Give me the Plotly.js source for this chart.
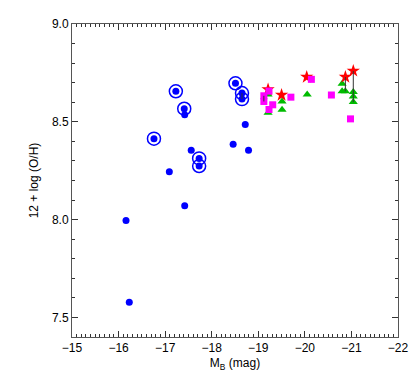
<!DOCTYPE html>
<html>
<head>
<meta charset="utf-8">
<script src="https://cdn.plot.ly/plotly-3.0.1.min.js"></script>
<style>html,body{margin:0;padding:0;background:#fff;}#chart{width:420px;height:382px;}</style>
</head>
<body>
<div id="chart"></div>
<script>
// Blue dots (all)
var blueX = [-17.23, -17.41, -17.42, -16.76, -18.51, -18.65, -18.65, -18.72, -18.46, -18.79, -17.56, -17.73, -17.73, -17.09, -17.42, -16.16, -16.23];
var blueY = [8.656, 8.567, 8.536, 8.414, 8.697, 8.647, 8.616, 8.486, 8.385, 8.354, 8.354, 8.313, 8.274, 8.245, 8.071, 7.996, 7.578];
// Blue dots that are encircled
var ringX = [-17.23, -17.41, -16.76, -18.51, -18.65, -18.65, -17.73, -17.73];
var ringY = [8.656, 8.567, 8.414, 8.697, 8.647, 8.616, 8.313, 8.274];
// Magenta squares
var magX = [-19.23, -19.12, -19.12, -19.31, -19.23, -19.70, -20.14, -20.57, -20.98];
var magY = [8.657, 8.633, 8.604, 8.587, 8.563, 8.626, 8.717, 8.637, 8.515];
// Red stars
var starX = [-19.21, -19.50, -20.04, -20.87, -21.04];
var starY = [8.665, 8.637, 8.729, 8.729, 8.760];
// Green triangles
var triX = [-19.21, -19.21, -19.51, -19.51, -20.05, -20.80, -20.80, -20.87, -21.04, -21.04, -21.04];
var triY = [8.640, 8.546, 8.604, 8.562, 8.640, 8.695, 8.656, 8.656, 8.652, 8.630, 8.601];
// Connecting segments (same object), x and y pairs separated by null
var segX = [-20.87, -20.87, null, -21.04, -21.04, null, -18.65, -18.65, null, -19.12, -19.12];
var segY = [8.729, 8.656, null, 8.760, 8.601, null, 8.647, 8.616, null, 8.633, 8.604];

var traces = [
  {x: blueX, y: blueY, mode: 'markers', type: 'scatter',
   marker: {symbol: 'circle', size: 7, color: '#0000ff'}},
  {x: ringX, y: ringY, mode: 'markers', type: 'scatter',
   marker: {symbol: 'circle-open', size: 13, color: '#0000ff', line: {color: '#0000ff', width: 1.5}}},
  {x: triX, y: triY, mode: 'markers', type: 'scatter',
   marker: {symbol: 'triangle-up', size: 8, color: '#00bb00'}},
  {x: starX, y: starY, mode: 'markers', type: 'scatter',
   marker: {symbol: 'star', size: 10, color: '#ff0000'}},
  {x: magX, y: magY, mode: 'markers', type: 'scatter',
   marker: {symbol: 'square', size: 7, color: '#ff00ff'}},
  {x: segX, y: segY, mode: 'lines', type: 'scatter', connectgaps: false,
   line: {color: '#333333', width: 1}}
];

var axisCommon = {
  showgrid: false, zeroline: false, showline: true, linecolor: '#555', linewidth: 1,
  mirror: 'ticks', ticks: 'inside', ticklen: 6, tickcolor: '#333', tickwidth: 1,
  tickfont: {family: 'Liberation Sans, Arial, sans-serif', size: 12, color: '#000'}
};

var layout = {
  width: 420, height: 382,
  margin: {l: 72, r: 22, t: 24, b: 45},
  paper_bgcolor: '#fff', plot_bgcolor: '#fff',
  showlegend: false,
  xaxis: Object.assign({}, axisCommon, {
    range: [-15, -22], dtick: 1, tick0: -15,
    minor: {dtick: 0.1, ticks: 'inside', ticklen: 3, tickcolor: '#333', showgrid: false},
    title: {text: 'M<sub>B</sub> (mag)', standoff: 4, font: {family: 'Liberation Sans, Arial, sans-serif', size: 12, color: '#000'}}
  }),
  yaxis: Object.assign({}, axisCommon, {
    range: [7.4, 9.0], dtick: 0.5, tick0: 7.5, tickformat: '.1f',
    minor: {dtick: 0.1, ticks: 'inside', ticklen: 3, tickcolor: '#333', showgrid: false},
    title: {text: '12 + log (O/H)', standoff: 10, font: {family: 'Liberation Sans, Arial, sans-serif', size: 12, color: '#000'}}
  })
};

Plotly.newPlot('chart', traces, layout, {staticPlot: true, displayModeBar: false});
</script>
</body>
</html>
